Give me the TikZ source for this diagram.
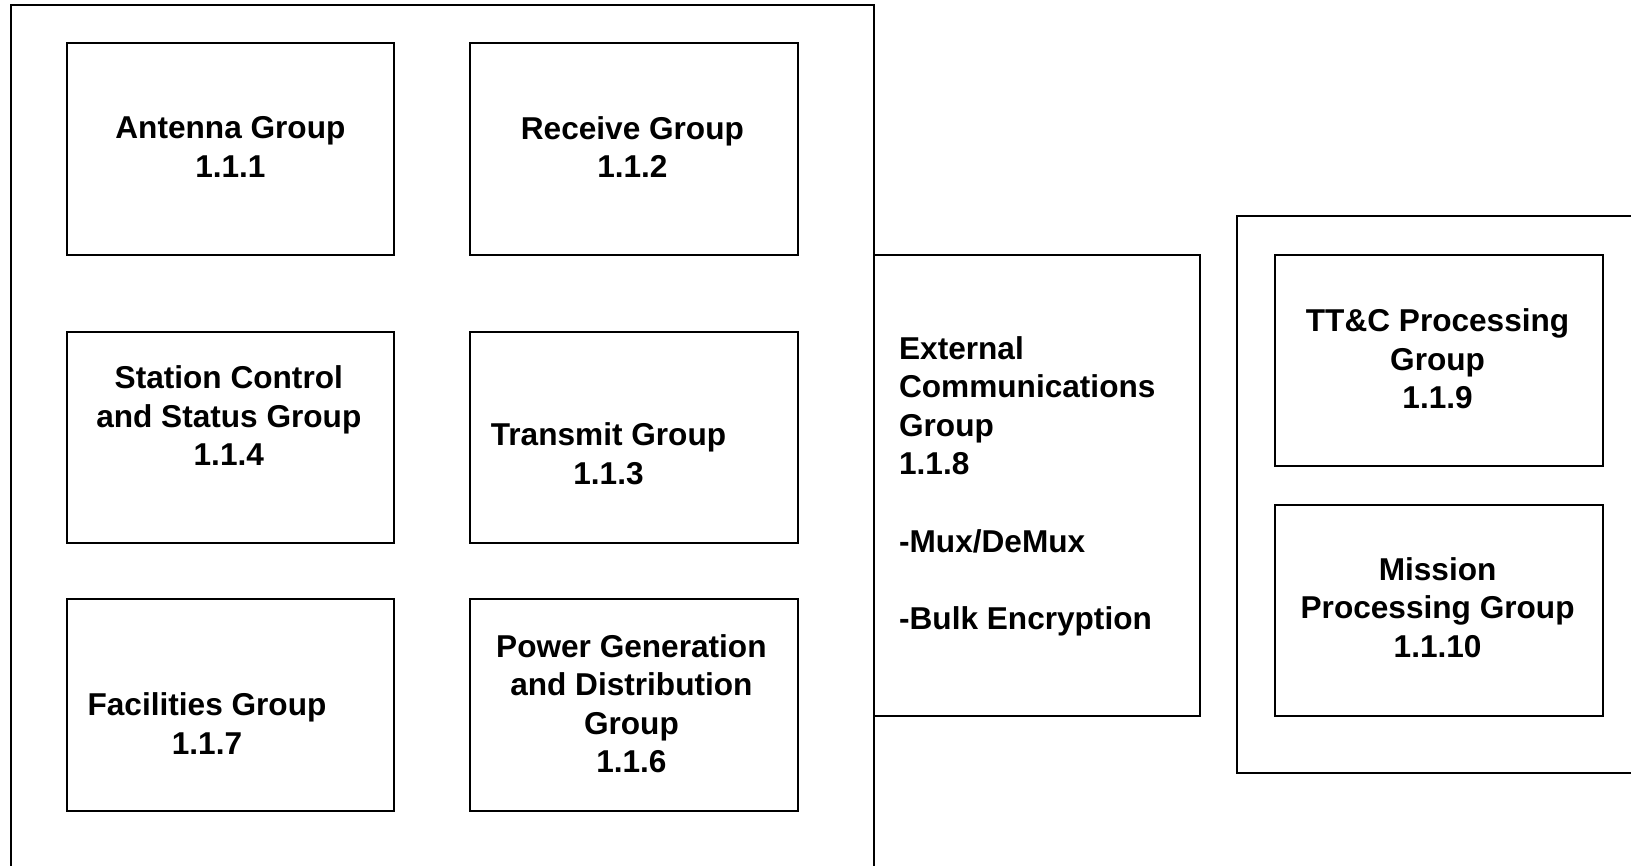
\documentclass[tikz,border=0pt]{standalone}
\usepackage{fontspec}
\setmainfont{Liberation Sans}
\usetikzlibrary{fit}
\begin{document}
\begin{tikzpicture}[x=0.5pt,y=-0.5pt,
  box/.style={draw=black, line width=1pt, inner sep=0pt, fit={#1}},
  lbl/.style={inner sep=0pt, align=center, font=\fontsize{15.8pt}{19.3pt}\selectfont\bfseries},
  lbll/.style={inner sep=0pt, align=left, font=\fontsize{15.8pt}{19.3pt}\selectfont\bfseries}]
\useasboundingbox (0,0) rectangle (1631,866);
\clip (0,0) rectangle (1631,866);
% outer containers
\node[box={(11,5) (874,900)}] (big) {};
\node[box={(1237,216) (1700,773)}] (rbig) {};
% inner boxes
\node[box={(67,43) (394,255)}] (ant) {};
\node[box={(470,43) (798,255)}] (rec) {};
\node[box={(67,332) (394,543)}] (sta) {};
\node[box={(470,332) (798,543)}] (tra) {};
\node[box={(67,599) (394,811)}] (fac) {};
\node[box={(470,599) (798,811)}] (pow) {};
\node[box={(874,255) (1200,716)}] (ext) {};
\node[box={(1275,255) (1603,466)}] (tt) {};
\node[box={(1275,505) (1603,716)}] (mis) {};
% labels
\node[lbl] (antT) at (230.4,147.2) {Antenna Group\\1.1.1};
\node[lbl] (recT) at (632.4,147.2) {Receive Group\\1.1.2};
\node[lbl] (staT) at (228.8,415.6) {Station Control\\and Status Group\\1.1.4};
\node[lbl] (traT) at (608.5,454) {Transmit Group\\1.1.3};
\node[lbl] (facT) at (207,723.5) {Facilities Group\\1.1.7};
\node[lbl] (powT) at (631.4,703.7) {Power Generation\\and Distribution\\Group\\1.1.6};
\node[lbll, anchor=west] (extT) at (898.7,486) {External\\Communications\\Group\\1.1.8\\[19.3pt]-Mux/DeMux\\[19.3pt]-Bulk Encryption};
\node[lbl] (ttT) at (1437.6,358.9) {TT\&C Processing\\Group\\1.1.9};
\node[lbl] (misT) at (1437.6,607.5) {Mission\\Processing Group\\1.1.10};
\end{tikzpicture}
\end{document}
